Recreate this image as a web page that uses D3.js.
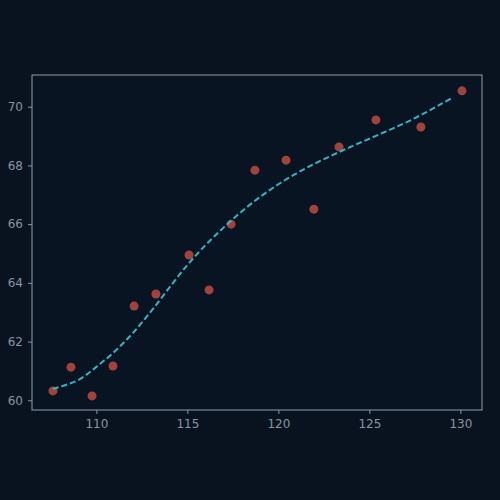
<!DOCTYPE html>
<html>
<head>
<meta charset="utf-8">
<script src="https://cdn.jsdelivr.net/npm/d3@7"></script>
<style>
  html, body { margin: 0; padding: 0; background: #08131f; }
  .tick text { font-family: "DejaVu Sans", sans-serif; font-size: 12px; fill: #8a94a2; }
  .tick line { stroke: #8a94a2; }
</style>
</head>
<body>
<div id="chart"></div>
<script>
// scatter points
var xVals = [107.61, 108.6, 109.76, 110.91, 112.07, 113.27, 115.09, 116.19, 117.4, 118.71, 120.42, 121.95, 123.33, 125.36, 127.83, 130.09];
var yVals = [60.32, 61.13, 60.15, 61.17, 63.21, 63.62, 64.95, 63.76, 66.0, 67.84, 68.18, 66.51, 68.63, 69.55, 69.31, 70.54];

// smoothed fit (dashed)
var fitX = [107.6, 109, 110, 111, 112, 113, 114, 115, 116, 117, 118, 119, 120, 121, 122, 123, 124, 125, 126, 127, 128, 129, 129.6];
var fitY = [60.39, 60.69, 61.14, 61.66, 62.29, 63.03, 63.83, 64.61, 65.29, 65.89, 66.44, 66.93, 67.36, 67.73, 68.06, 68.36, 68.64, 68.91, 69.18, 69.46, 69.77, 70.11, 70.32];

var xTicks = [110, 115, 120, 125, 130];
var yTicks = [60, 62, 64, 66, 68, 70];

var svgWidth = 500, svgHeight = 500;
var margin = {top: 75, right: 18, bottom: 90, left: 32};
var width = svgWidth - margin.left - margin.right;
var height = svgHeight - margin.top - margin.bottom;

var svg = d3.select("#chart").append("svg")
  .attr("width", svgWidth)
  .attr("height", svgHeight)
  .style("display", "block");

svg.append("rect").attr("width", svgWidth).attr("height", svgHeight).attr("fill", "#08131f");

var g = svg.append("g").attr("transform", `translate(${margin.left},${margin.top})`);

var x = d3.scaleLinear().domain([106.46, 131.19]).range([0, width]);
var y = d3.scaleLinear().domain([59.67, 71.08]).range([height, 0]);

g.append("rect").attr("width", width).attr("height", height).attr("fill", "#081422");

var xAxis = g.append("g")
  .attr("transform", `translate(0,${height})`)
  .call(d3.axisBottom(x).tickValues(xTicks).tickSize(4).tickPadding(5));
var yAxis = g.append("g")
  .call(d3.axisLeft(y).tickValues(yTicks).tickSize(4).tickPadding(5));
xAxis.select(".domain").remove();
yAxis.select(".domain").remove();

// frame
g.append("rect").attr("width", width).attr("height", height)
  .attr("fill", "none").attr("stroke", "#939daa").attr("stroke-width", 1);

var pts = xVals.map((d, i) => ({x: d, y: yVals[i]}));
g.selectAll("circle").data(pts).enter().append("circle")
  .attr("cx", d => x(d.x))
  .attr("cy", d => y(d.y))
  .attr("r", 4.5)
  .attr("fill", "#b4473f")
  .attr("opacity", 0.9);

var fit = fitX.map((d, i) => [d, fitY[i]]);
var line = d3.line().x(d => x(d[0])).y(d => y(d[1])).curve(d3.curveCatmullRom);
g.append("path").datum(fit)
  .attr("d", line)
  .attr("fill", "none")
  .attr("stroke", "#36b3c6")
  .attr("stroke-width", 2)
  .attr("stroke-dasharray", "6,3");
</script>
</body>
</html>
